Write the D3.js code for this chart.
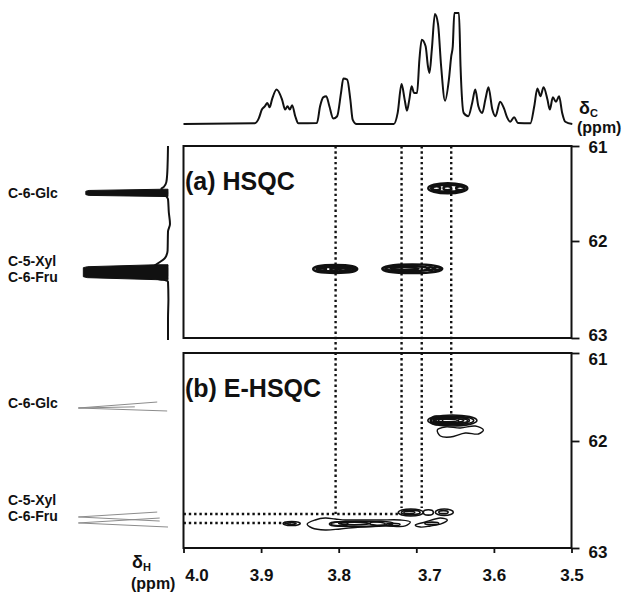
<!DOCTYPE html>
<html>
<head>
<meta charset="utf-8">
<title>HSQC vs E-HSQC</title>
<script src="https://d3js.org/d3.v7.min.js"></script>
<style>
  body { margin: 0; background: #fff; }
  svg text { font-family: "Liberation Sans", Arial, sans-serif; font-weight: bold; fill: #111; }
</style>
</head>
<body>
<svg id="chart" width="632" height="599"></svg>
<script>
// ---- data ----
const hTicks = [4.0, 3.9, 3.8, 3.7, 3.6, 3.5];
const cTicks = [61, 62, 63];

// 1H projection on top: [ppm, intensity]
const topTrace = [
  [4.000, 0], [3.908, 0.6], [3.903, 5], [3.899, 13], [3.895, 16], [3.892, 19], [3.889, 15],
  [3.886, 22], [3.880, 31], [3.873, 22], [3.869, 13], [3.866, 16], [3.863, 13], [3.860, 17],
  [3.856, 7], [3.852, 0.6], [3.828, 1], [3.824, 16], [3.820, 24], [3.816, 25], [3.812, 16],
  [3.807, 5], [3.802, 7], [3.797, 28], [3.794, 41], [3.789, 40], [3.785, 22], [3.782, 4],
  [3.777, 0], [3.729, 0], [3.724, 10], [3.719, 36], [3.715, 22], [3.712, 12], [3.709, 22],
  [3.706, 34], [3.703, 28], [3.699, 28], [3.696, 58], [3.693, 76], [3.688, 70], [3.685, 52],
  [3.683, 46], [3.680, 67], [3.676, 99], [3.672, 90], [3.668, 52], [3.663, 21], [3.658, 40],
  [3.655, 61], [3.653, 70], [3.651, 100], [3.645, 100], [3.643, 52], [3.639, 10], [3.633, 7],
  [3.628, 19], [3.624, 31], [3.620, 16], [3.615, 10], [3.611, 22], [3.607, 33], [3.602, 13],
  [3.598, 7], [3.592, 20], [3.587, 14], [3.583, 6], [3.579, 2], [3.574, 6], [3.569, 1],
  [3.553, 0.6], [3.548, 16], [3.544, 32], [3.540, 25], [3.536, 33], [3.531, 22], [3.528, 13],
  [3.524, 24], [3.520, 20], [3.516, 25], [3.512, 10], [3.508, 2], [3.499, 0]
];

// 13C projection beside HSQC: [ppm, intensity]
const projALine = [
  [61.00, 0], [61.20, 0.5], [61.30, 1], [61.38, 2], [61.43, 5], [61.45, 8], [61.53, 2],
  [61.56, 0], [61.70, -1], [61.82, -2.4], [61.90, 0], [62.10, 0.5], [62.18, 4], [62.235, 13],
  [62.27, 18], [62.39, 14], [62.40, 6], [62.42, 0], [62.60, -0.5], [62.80, 0], [63.02, 0]
];
const projASpikes = [
  [[61.455, 6], [61.468, 95], [61.476, 99], [61.512, 99], [61.520, 95], [61.532, 2]],
  [[62.245, 14], [62.265, 97], [62.275, 102], [62.368, 102], [62.378, 97], [62.40, 8]]
];
// 13C projection beside E-HSQC (faint)
const projBLines = [
  [[61.557, 13], [61.625, 108], [61.659, 1]],
  [[61.612, 40], [61.625, 108]],
  [[62.664, 13], [62.710, 108], [62.748, 10]],
  [[62.720, 10], [62.766, 108], [62.804, 0]]
];

// cross peaks: ellipses {h, c, rh, rc}
const hsqcPeaks = [
  {h: 3.6594, c: 61.444, rh: 0.0252, rc: 0.053},
  {h: 3.6594, c: 61.444, rh: 0.0215, rc: 0.036},
  {h: 3.6742, c: 61.444, rh: 0.0050, rc: 0.020},
  {h: 3.6600, c: 61.444, rh: 0.0050, rc: 0.020},
  {h: 3.6432, c: 61.444, rh: 0.0055, rc: 0.020},
  {h: 3.8045, c: 62.289, rh: 0.0284, rc: 0.041},
  {h: 3.8045, c: 62.289, rh: 0.0240, rc: 0.024},
  {h: 3.8213, c: 62.289, rh: 0.0050, rc: 0.014},
  {h: 3.8058, c: 62.289, rh: 0.0050, rc: 0.014},
  {h: 3.7942, c: 62.289, rh: 0.0050, rc: 0.014},
  {h: 3.7826, c: 62.289, rh: 0.0045, rc: 0.014},
  {h: 3.7052, c: 62.286, rh: 0.0387, rc: 0.045},
  {h: 3.7120, c: 62.286, rh: 0.0280, rc: 0.028},
  {h: 3.7150, c: 62.286, rh: 0.0180, rc: 0.014},
  {h: 3.6819, c: 62.286, rh: 0.0040, rc: 0.015},
  {h: 3.6729, c: 62.286, rh: 0.0040, rc: 0.015}
];
const ehsqcPeaks = [
  {h: 3.6535, c: 61.767, rh: 0.0316, rc: 0.062},
  {h: 3.6535, c: 61.767, rh: 0.0275, rc: 0.050},
  {h: 3.6550, c: 61.767, rh: 0.0235, rc: 0.038},
  {h: 3.6580, c: 61.767, rh: 0.0190, rc: 0.026},
  {h: 3.6610, c: 61.767, rh: 0.0140, rc: 0.014},
  {h: 3.6740, c: 61.767, rh: 0.0080, rc: 0.050},
  {h: 3.6760, c: 61.767, rh: 0.0050, rc: 0.032},
  {h: 3.6400, c: 61.770, rh: 0.0060, rc: 0.020},
  {h: 3.7071, c: 62.668, rh: 0.0161, rc: 0.033},
  {h: 3.7071, c: 62.668, rh: 0.0120, rc: 0.022},
  {h: 3.7090, c: 62.668, rh: 0.0070, rc: 0.011},
  {h: 3.6845, c: 62.668, rh: 0.0065, rc: 0.025},
  {h: 3.6639, c: 62.665, rh: 0.0116, rc: 0.030},
  {h: 3.6650, c: 62.665, rh: 0.0060, rc: 0.014},
  {h: 3.8606, c: 62.771, rh: 0.0110, rc: 0.019},
  {h: 3.8610, c: 62.771, rh: 0.0060, rc: 0.009},
  {h: 3.7750, c: 62.775, rh: 0.0350, rc: 0.025},
  {h: 3.7800, c: 62.772, rh: 0.0200, rc: 0.012},
  {h: 3.8000, c: 62.776, rh: 0.0120, rc: 0.020},
  {h: 3.7450, c: 62.770, rh: 0.0150, rc: 0.018},
  {h: 3.7300, c: 62.780, rh: 0.0090, rc: 0.011},
  {h: 3.6800, c: 62.770, rh: 0.0090, rc: 0.012}
];
const ehsqcBlobs = [
  [[3.6729, 61.875], [3.6626, 61.841], [3.6432, 61.852], [3.6239, 61.830], [3.6135, 61.875],
   [3.6200, 61.920], [3.6368, 61.909], [3.6561, 61.955], [3.6690, 61.943]],
  [[3.8406, 62.776], [3.8303, 62.738], [3.8174, 62.720], [3.8045, 62.729], [3.7916, 62.738],
   [3.7723, 62.738], [3.7465, 62.738], [3.7206, 62.738], [3.7077, 62.757], [3.7142, 62.794],
   [3.7400, 62.794], [3.7723, 62.804], [3.7981, 62.822], [3.8174, 62.832], [3.8342, 62.813]],
  [[3.7013, 62.785], [3.6884, 62.757], [3.6690, 62.720], [3.6600, 62.738], [3.6690, 62.776],
   [3.6819, 62.794], [3.6948, 62.804]]
];

// dotted correlation lines
const linkH = [3.804, 3.719, 3.693, 3.655];
const linkHEnd = [62.682, 62.626, 62.626, 61.716];
const linkC = [62.682, 62.766];
const linkCEnd = [3.719, 3.862];

// ---- scales ----
const svg = d3.select("#chart");
const x = d3.scaleLinear().domain([4.0, 3.5]).range([183.5, 571.5]);
const yA = d3.scaleLinear().domain([61, 62, 63]).range([146, 241, 338]);
const yB = d3.scaleLinear().domain([61, 62, 63]).range([353, 441, 548]);
const yTop = d3.scaleLinear().domain([0, 100]).range([124, 13]);
const xProj = d3.scaleLinear().domain([0, 100]).range([168, 85]);

// top 1D spectrum
svg.append("path")
  .datum(topTrace)
  .attr("fill", "none")
  .attr("stroke", "#111")
  .attr("stroke-width", 2)
  .attr("stroke-linejoin", "round")
  .attr("d", d3.line().x(d => x(d[0])).y(d => yTop(d[1])).curve(d3.curveMonotoneX));

svg.append("text").attr("x", 579).attr("y", 114).style("font-size", "18px")
  .text("δ").append("tspan").attr("dy", 3).style("font-size", "11px").text("C");
svg.append("text").attr("x", 577).attr("y", 133).style("font-size", "16px").text("(ppm)");

// panel frames; label nudges follow the printed figure
const labelShift = [{61: 1, 62: 0, 63: -3}, {61: 6, 62: 0, 63: 4}];
[yA, yB].forEach((y, k) => {
  svg.append("rect")
    .attr("x", x(4.0)).attr("y", y(61))
    .attr("width", x(3.5) - x(4.0)).attr("height", y(63) - y(61))
    .attr("fill", "none").attr("stroke", "#111").attr("stroke-width", 2);

  const ax = svg.append("g")
    .attr("transform", `translate(${x(3.5)},0)`)
    .call(d3.axisRight(y).tickValues(cTicks).tickSize(8).tickPadding(9).tickFormat(d3.format("d")));
  ax.select(".domain").remove();
  ax.selectAll("line").attr("stroke", "#111").attr("stroke-width", 1.8);
  ax.selectAll("text").style("font-size", "17px").attr("fill", "#111")
    .attr("y", d => labelShift[k][d]);
});

// bottom axis
const bx = svg.append("g")
  .attr("transform", `translate(0,${yB(63)})`)
  .call(d3.axisBottom(x).tickValues(hTicks).tickSize(5).tickPadding(16).tickFormat(d3.format(".1f")));
bx.select(".domain").remove();
bx.selectAll("line").attr("stroke", "#111").attr("stroke-width", 1.8);
bx.selectAll("text").style("font-size", "17px").attr("fill", "#111")
  .attr("dx", d => (d === 4.0 || d === 3.7) ? 13 : 0);

svg.append("text").attr("x", 132).attr("y", 568).style("font-size", "18px")
  .text("δ").append("tspan").attr("dy", 3).style("font-size", "11px").text("H");
svg.append("text").attr("x", 131).attr("y", 589).style("font-size", "16px").text("(ppm)");

// panel titles
svg.append("text").attr("x", 185).attr("y", 190).style("font-size", "25px").text("(a) HSQC");
svg.append("text").attr("x", 185).attr("y", 397).style("font-size", "25px").text("(b) E-HSQC");

// dotted correlation lines
const dots = svg.append("g").attr("stroke", "#111").attr("stroke-width", 2.4)
  .attr("stroke-dasharray", "2.4,2.9");
linkH.forEach((h, i) => {
  dots.append("line").attr("x1", x(h)).attr("x2", x(h))
    .attr("y1", yA(61)).attr("y2", yB(linkHEnd[i]));
});
linkC.forEach((c, i) => {
  dots.append("line").attr("x1", x(4.0)).attr("x2", x(linkCEnd[i]))
    .attr("y1", yB(c)).attr("y2", yB(c));
});

// cross peaks
function drawEllipses(data, y, sw) {
  svg.append("g").selectAll("ellipse").data(data).enter().append("ellipse")
    .attr("cx", d => x(d.h)).attr("cy", d => y(d.c))
    .attr("rx", d => Math.abs(x(d.h + d.rh) - x(d.h)))
    .attr("ry", d => Math.abs(y(d.c + d.rc) - y(d.c)))
    .attr("fill", "none").attr("stroke", "#111").attr("stroke-width", sw);
}
drawEllipses(hsqcPeaks, yA, 2.4);
drawEllipses(ehsqcPeaks, yB, 1.6);
svg.append("g").selectAll("path").data(ehsqcBlobs).enter().append("path")
  .attr("fill", "none").attr("stroke", "#111").attr("stroke-width", 1.4)
  .attr("d", d3.line().x(d => x(d[0])).y(d => yB(d[1])).curve(d3.curveCatmullRomClosed));

// 13C projections on the left
svg.append("path")
  .datum(projALine)
  .attr("fill", "none").attr("stroke", "#111").attr("stroke-width", 2)
  .attr("d", d3.line().y(d => yA(d[0])).x(d => xProj(d[1])).curve(d3.curveMonotoneY));
svg.append("g").selectAll("path").data(projASpikes).enter().append("path")
  .attr("fill", "#111").attr("stroke", "#111").attr("stroke-width", 1)
  .attr("d", d3.area().y(d => yA(d[0])).x0(xProj(0)).x1(d => xProj(d[1])));
svg.append("g").selectAll("path").data(projBLines).enter().append("path")
  .attr("fill", "none").attr("stroke", "#8c8c8c").attr("stroke-width", 1)
  .attr("d", d3.line().y(d => yB(d[0])).x(d => xProj(d[1])));

// assignment labels
const lab = svg.append("g").style("font-size", "14px");
lab.append("text").attr("x", 8).attr("y", 198).text("C-6-Glc");
lab.append("text").attr("x", 8).attr("y", 266).text("C-5-Xyl");
lab.append("text").attr("x", 8).attr("y", 282).text("C-6-Fru");
lab.append("text").attr("x", 8).attr("y", 408).text("C-6-Glc");
lab.append("text").attr("x", 8).attr("y", 505).text("C-5-Xyl");
lab.append("text").attr("x", 8).attr("y", 521).text("C-6-Fru");
</script>
</body>
</html>
